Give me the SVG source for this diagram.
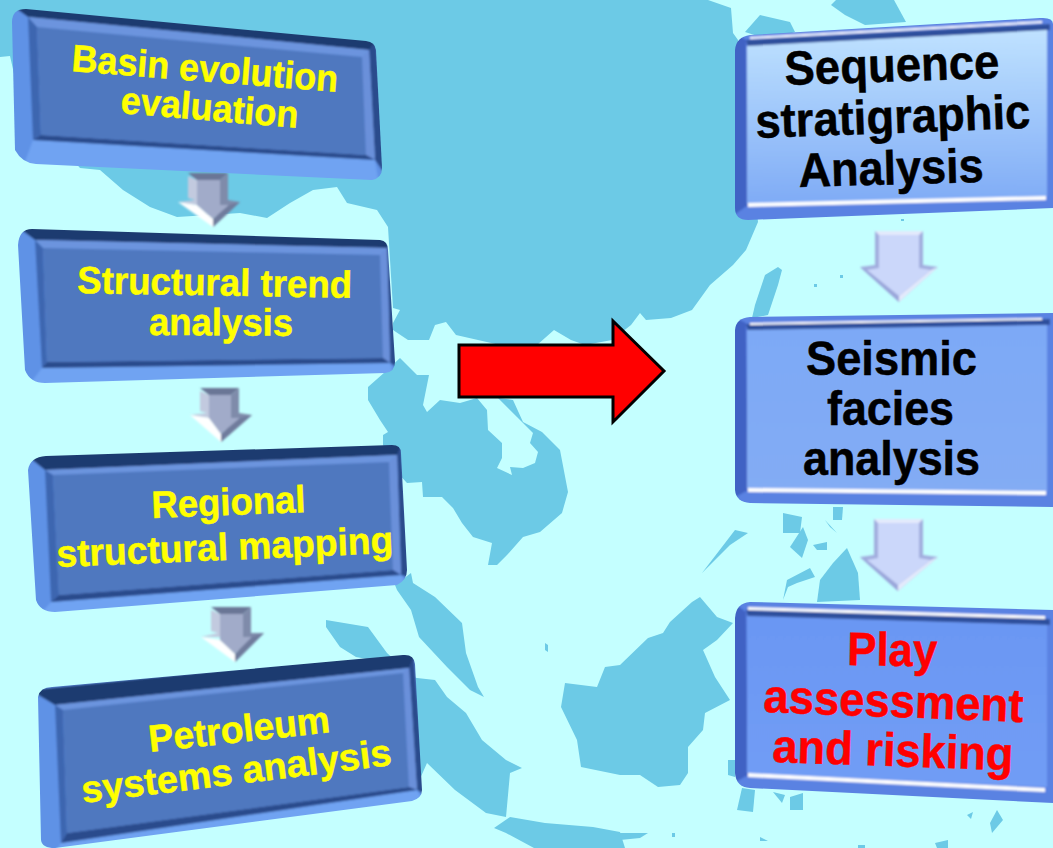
<svg xmlns="http://www.w3.org/2000/svg" width="1053" height="848" viewBox="0 0 1053 848">
<style>
.land{fill:#6CCAE6}
.base{fill:#5F92E6}
.bot{fill:#6FA3F2}
.top{fill:#1F3A70}
.rgt{fill:#2C4C8C}
.ltop{fill:#6C94DE}
.lleft{fill:#3C66B0}
.lrgt{fill:#6A90DA}
.lbot{fill:#2B4B8C}
.face{fill:#5078BF}
.rbase{fill:#5A82E2}
.rleft{fill:#3F62C4}
.rdark{fill:#2F4F9C}
.wht{fill:#FFFFFF}
.a1{fill:#C2CADF}.a2{fill:#6A7696}.a3{fill:#7F8BAA}.a4{fill:#FFFFFF}.a5{fill:#A1ABC9}.a6{fill:#6F7B9C}
.b1{fill:#B4C0EC}.b2{fill:#9AA6DA}.b3{fill:#A2AEDE}.b4{fill:#E4EAFC}.b5{fill:#CBD7FA}.b6{fill:#A6B2E2}
text{font-family:"Liberation Sans",Arial,sans-serif;font-weight:bold;stroke-width:0.5px}
.y{fill:#FFFF00;stroke:#FFFF00;font-size:38px}
.k{fill:#000000;stroke:#000000;font-size:48px}
.r{fill:#FF0000;stroke:#FF0000;font-size:47px}
</style>
<defs>
<filter id="soft" x="-5%" y="-5%" width="110%" height="110%"><feGaussianBlur stdDeviation="0.8"/></filter>
<linearGradient id="g1" x1="0" y1="0" x2="0" y2="1"><stop offset="0" stop-color="#BFE2FF"/><stop offset="1" stop-color="#7FABF6"/></linearGradient>
<linearGradient id="g2" x1="0" y1="0" x2="0" y2="1"><stop offset="0" stop-color="#7DA9F6"/><stop offset="1" stop-color="#83ACF4"/></linearGradient>
<linearGradient id="g3" x1="0" y1="0" x2="0" y2="1"><stop offset="0" stop-color="#6B97F3"/><stop offset="1" stop-color="#719DF5"/></linearGradient>
<clipPath id="c1"><path d="M12,22 Q12,9 26,9 L366,41 Q375,42 376,50 L382,168 Q382,178 372,180 L36,164 Q22,163 15,150 Z"/></clipPath>
<clipPath id="c2"><path d="M18,245 Q19,229 32,229 L380,240 Q388,241 388,250 L395,362 Q395,372 385,373 L45,383 Q30,383 25,370 Z"/></clipPath>
<clipPath id="c3"><path d="M28,470 Q30,457 46,456 L392,445 Q401,445 401,453 L407,570 Q407,580 397,585 L55,612 Q40,612 36,600 Z"/></clipPath>
<clipPath id="c4"><path d="M38,697 Q40,687 52,687 L403,655 Q414,654 415,664 L422,790 Q422,798 412,801 L55,848 Q42,848 41,840 Z"/></clipPath>
<clipPath id="c5"><path d="M735,50 Q736,37 750,35 L1040,18 Q1053,17 1053,24 L1053,208 L748,220 Q735,220 735,208 Z"/></clipPath>
<clipPath id="c6"><path d="M735,330 Q736,318 750,317 L1053,313 L1053,507 L750,503 Q736,502 735,490 Z"/></clipPath>
<clipPath id="c7"><path d="M735,618 Q736,603 750,602 L1053,610 L1053,803 L750,788 Q736,787 735,773 Z"/></clipPath>
</defs>
<rect width="1053" height="848" fill="#C4FFFF"/>
<g id="map">
<polygon class="land" points="0,0 708,0 731,8 733,33 738,40 758,222 746,250 733,265 710,285 692,310 671,318 646,320 640,313 631,325 612,340 585,345 571,340 554,330 537,345 500,345 456,335 446,322 435,325 429,340 408,340 393,330 393,323 400,310 393,308 388,227 377,210 347,203 337,187 313,190 290,203 267,218 240,213 177,217 150,207 123,190 100,170 80,168 20,100 10,56 0,57"/>
<polygon class="land" points="745,32 760,15 790,22 795,32 770,40"/>
<polygon class="land" points="831,5 836,0 894,0 906,22 865,25 845,15"/>
<polygon class="land" points="778,267 765,275 755,305 752,318 768,315 778,285 782,270"/>
<polygon class="land" points="368,387 385,372 400,358 417,375 429,375 428,380 423,405 427,412 440,400 460,403 477,398 487,410 488,430 502,443 502,458 497,468 512,475 510,467 523,468 535,463 538,452 530,443 533,433 517,417 498,398 513,400 523,422 542,432 560,450 568,492 562,513 540,532 523,537 507,555 497,565 488,565 492,543 473,537 462,523 453,508 442,497 423,497 422,482 407,483 395,470 383,445 383,435 388,432 380,420 368,400"/>
<polygon class="land" points="395,585 411,573 413,583 435,597 462,623 466,653 478,687 484,697 470,690 447,667 419,637 411,610 397,590"/>
<polygon class="land" points="326,620 368,627 387,653 400,665 356,657 340,647 326,627"/>
<polygon class="land" points="405,675 417,678 435,680 447,697 466,713 482,740 506,760 522,768 510,773 506,817 486,813 455,790 427,763 415,790"/>
<polygon class="land" points="494,828 510,817 545,823 593,827 620,832 625,848 534,848 506,833"/>
<polygon class="land" points="620,665 648,638 663,633 670,622 692,602 700,597 717,617 733,623 717,640 703,650 715,677 730,700 705,713 703,730 688,747 688,773 680,785 658,787 640,775 620,775 581,767 577,740 561,707 565,683 597,687 605,667"/>
<polygon class="land" points="702,573 735,530 748,533 730,545 705,570"/>
<polygon class="land" points="783,513 802,517 800,533 783,533"/>
<polygon class="land" points="803,527 808,540 802,558 790,547"/>
<polygon class="land" points="833,507 843,507 842,520 833,520"/>
<polygon class="land" points="825,520 837,533 830,527"/>
<polygon class="land" points="813,545 827,542 827,550 817,550"/>
<polygon class="land" points="847,548 858,573 860,600 817,602 820,580 833,563"/>
<polygon class="land" points="783,600 787,580 810,568 815,577 797,583 788,587"/>
<polygon class="land" points="742,788 755,790 753,812 737,810"/>
<polygon class="land" points="773,792 785,795 782,803"/>
<polygon class="land" points="790,797 803,793 803,810 790,810"/>
<polygon class="land" points="728,760 735,760 735,777 728,775"/>
<polygon class="land" points="990,823 997,810 1003,820 992,833"/>
<polygon class="land" points="967,815 973,812 971,819"/>
<polygon class="land" points="935,843 948,840 948,848 937,848"/>
<polygon class="land" points="620,833 648,833 640,838 620,840"/>
<polygon class="land" points="672,833 675,833 675,837 672,837"/>
<polygon class="land" points="760,837 768,841 760,841"/>
<polygon class="land" points="858,845 865,845 865,848 858,848"/>
<polygon class="land" points="545,643 548,645 548,652 545,650"/>
<rect class="land" x="814" y="284" width="3" height="3"/>
<rect class="land" x="840" y="275" width="3" height="3"/>
<rect class="land" x="901" y="219" width="3" height="2"/>
</g>
<g id="connectors">
<g id="arrow-l1" filter="url(#soft)">
<polygon class="a1" points="188,176 197,180 197,205 178,202 195,200 188,198"/>
<polygon class="a2" points="188,173 228,173 220,180 197,180"/>
<polygon class="a3" points="228,173 228,200 240,202 213,227 220,205 220,180"/>
<polygon class="a4" points="178,202 213,227 213,219 197,205"/>
<polygon class="a5" points="197,180 220,180 220,205 229,205 213,219 197,205"/>
<polygon class="a6" points="229,205 240,202 213,227 213,219"/>
</g>
<g id="arrow-l2" filter="url(#soft)">
<polygon class="a1" points="200,391 209,395 209,418 190,415 207,413 200,411"/>
<polygon class="a2" points="200,388 239,388 231,395 209,395"/>
<polygon class="a3" points="239,388 239,413 252,415 221,442 231,418 231,395"/>
<polygon class="a4" points="190,415 221,442 221,434 209,418"/>
<polygon class="a5" points="209,395 231,395 231,418 240,418 221,434 209,418"/>
<polygon class="a6" points="240,418 252,415 221,442 221,434"/>
</g>
<g id="arrow-l3" filter="url(#soft)">
<polygon class="a1" points="211,610 220,614 220,637 201,637 218,633 211,631"/>
<polygon class="a2" points="211,607 251,607 243,614 220,614"/>
<polygon class="a3" points="251,607 251,633 264,633 235,662 243,637 243,614"/>
<polygon class="a4" points="201,637 235,662 235,654 220,640"/>
<polygon class="a5" points="220,614 243,614 243,637 252,637 235,654 220,640"/>
<polygon class="a6" points="252,637 264,633 235,662 235,654"/>
</g>
<g id="arrow-r1" filter="url(#soft)">
<polygon class="b3" points="875,231 923,231 923,265 938,267 899,302 860,267 875,265"/>
<polygon class="b4" points="875,231 923,231 919,235 879,235"/>
<polygon class="b4" points="899,302 938,267 931,270 899,296"/>
<polygon class="b2" points="860,267 899,302 899,296 867,270"/>
<polygon class="b5" points="879,235 919,235 919,268 931,270 899,296 867,270 879,268"/>
</g>
<g id="arrow-r2" filter="url(#soft)">
<polygon class="b3" points="874,519 923,519 923,555 938,557 898,591 860,557 874,555"/>
<polygon class="b4" points="874,519 923,519 919,523 878,523"/>
<polygon class="b4" points="898,591 938,557 931,560 898,585"/>
<polygon class="b2" points="860,557 898,591 898,585 867,560"/>
<polygon class="b5" points="878,523 919,523 919,558 931,560 898,585 867,560 878,558"/>
</g>
<polygon id="arrow-main" points="459,345 613,345 613,321 664,371 613,422 613,397 459,397" fill="#FF0000" stroke="#000000" stroke-width="3"/>
</g>
<g id="node-basin">
<g clip-path="url(#c1)"><g filter="url(#soft)">
<rect class="base" x="0" y="0" width="400" height="190"/>
<polygon class="top" points="10,4 380,38 369,50 28,17"/>
<polygon class="rgt" points="376,40 386,176 375,160 369,50"/>
<polygon class="bot" points="33,140 375,160 380,190 20,175"/>
<polygon class="ltop" points="28,17 369,50 362,57 37,27"/>
<polygon class="lleft" points="28,17 37,27 41,135 33,140"/>
<polygon class="lrgt" points="369,50 375,160 366,155 362,57"/>
<polygon class="lbot" points="33,140 41,135 366,155 375,160"/>
<polygon class="face" points="37,27 362,57 366,155 41,135"/>
</g></g>
<text class="y" transform="translate(71,71) rotate(4.5)" textLength="267" lengthAdjust="spacingAndGlyphs">Basin evolution</text>
<text class="y" transform="translate(120,113) rotate(4.8)" textLength="178" lengthAdjust="spacingAndGlyphs">evaluation</text>
</g>
<g id="node-structural">
<g clip-path="url(#c2)"><g filter="url(#soft)">
<rect class="base" x="0" y="220" width="410" height="175"/>
<polygon class="top" points="15,225 392,236 387,248 35,240"/>
<polygon class="rgt" points="388,240 398,368 390,363 387,248"/>
<polygon class="bot" points="42,368 390,363 395,380 25,390"/>
<polygon class="ltop" points="35,240 387,248 380,255 43,248"/>
<polygon class="lleft" points="35,240 43,248 47,362 42,368"/>
<polygon class="lrgt" points="387,248 390,363 383,358 380,255"/>
<polygon class="lbot" points="42,368 47,362 383,358 390,363"/>
<polygon class="face" points="43,248 380,255 383,358 47,362"/>
</g></g>
<text class="y" transform="translate(77,293) rotate(1)" textLength="275" lengthAdjust="spacingAndGlyphs">Structural trend</text>
<text class="y" transform="translate(149,335) rotate(0.3)" textLength="144" lengthAdjust="spacingAndGlyphs">analysis</text>
</g>
<g id="node-regional">
<g clip-path="url(#c3)"><g filter="url(#soft)">
<rect class="base" x="15" y="435" width="405" height="190"/>
<polygon class="top" points="20,450 405,440 397,455 45,470"/>
<polygon class="rgt" points="401,445 410,578 401,575 397,455"/>
<polygon class="bot" points="51,602 401,575 410,590 35,620"/>
<polygon class="ltop" points="45,470 397,455 389,462 53,475"/>
<polygon class="lleft" points="45,470 53,475 59,595 51,602"/>
<polygon class="lrgt" points="397,455 401,575 393,570 389,462"/>
<polygon class="lbot" points="51,602 59,595 393,570 401,575"/>
<polygon class="face" points="53,475 389,462 393,570 59,595"/>
</g></g>
<text class="y" transform="translate(152,518) rotate(-2.2)" textLength="154" lengthAdjust="spacingAndGlyphs">Regional</text>
<text class="y" transform="translate(57,567) rotate(-2.4)" textLength="337" lengthAdjust="spacingAndGlyphs">structural mapping</text>
</g>
<g id="node-petroleum">
<g clip-path="url(#c4)"><g filter="url(#soft)">
<rect class="base" x="25" y="645" width="405" height="215"/>
<polygon class="top" points="30,690 420,650 409,668 55,705"/>
<polygon class="rgt" points="414,655 425,795 417,790 409,668"/>
<polygon class="bot" points="61,843 417,790 425,805 50,860"/>
<polygon class="ltop" points="55,705 409,668 403,673 63,710"/>
<polygon class="lleft" points="55,705 63,710 67,833 61,843"/>
<polygon class="lrgt" points="409,668 417,790 409,787 403,673"/>
<polygon class="lbot" points="61,843 67,833 409,787 417,790"/>
<polygon class="face" points="63,710 403,673 409,787 67,833"/>
</g></g>
<text class="y" transform="translate(150,752) rotate(-6.3)" textLength="182" lengthAdjust="spacingAndGlyphs">Petroleum</text>
<text class="y" transform="translate(83,803) rotate(-7)" textLength="312" lengthAdjust="spacingAndGlyphs">systems analysis</text>
</g>
<g id="node-sequence">
<g clip-path="url(#c5)"><g filter="url(#soft)">
<rect class="rbase" x="725" y="10" width="340" height="220"/>
<polygon class="rleft" points="730,30 746,40 748,205 730,218"/>
<polygon class="rdark" points="746,40 1050,24 1050,30 748,47"/>
<polygon class="wht" points="750,37 1042,21 1042,23 750,39"/>
<polygon points="747,46 1047,30 1047,196 747,204" fill="url(#g1)"/>
<polygon class="wht" points="748,203 1046,196 1046,200 748,207"/>
</g></g>
<text class="k" transform="translate(785,85) rotate(-1.9)" textLength="215" lengthAdjust="spacingAndGlyphs">Sequence</text>
<text class="k" transform="translate(756,138) rotate(-2.1)" textLength="275" lengthAdjust="spacingAndGlyphs">stratigraphic</text>
<text class="k" transform="translate(799,187) rotate(-1.6)" textLength="185" lengthAdjust="spacingAndGlyphs">Analysis</text>
</g>
<g id="node-seismic">
<g clip-path="url(#c6)"><g filter="url(#soft)">
<rect class="rbase" x="725" y="305" width="340" height="210"/>
<polygon class="rleft" points="730,315 746,323 748,490 730,500"/>
<polygon class="rdark" points="746,324 1050,319 1050,325 748,331"/>
<polygon class="wht" points="750,323 1042,318 1042,320 750,325"/>
<polygon points="747,330 1047,325 1047,491 747,489" fill="url(#g2)"/>
<polygon class="wht" points="748,488 1046,491 1046,495 748,492"/>
</g></g>
<text class="k" transform="translate(806,375)" textLength="171" lengthAdjust="spacingAndGlyphs">Seismic</text>
<text class="k" transform="translate(827,425)" textLength="127" lengthAdjust="spacingAndGlyphs">facies</text>
<text class="k" transform="translate(803,475)" textLength="177" lengthAdjust="spacingAndGlyphs">analysis</text>
</g>
<g id="node-play">
<g clip-path="url(#c7)"><g filter="url(#soft)">
<rect class="rbase" x="725" y="595" width="340" height="220"/>
<polygon class="rleft" points="730,600 746,612 748,775 730,785"/>
<polygon class="rdark" points="746,610 1050,619 1050,625 748,617"/>
<polygon class="wht" points="748,607 1045,616 1045,619 748,610"/>
<polygon points="747,616 1047,625 1047,787 747,773" fill="url(#g3)"/>
<polygon class="wht" points="748,773 1045,788 1045,792 748,777"/>
</g></g>
<text class="r" transform="translate(847,665) rotate(1)" textLength="90" lengthAdjust="spacingAndGlyphs">Play</text>
<text class="r" transform="translate(763,712) rotate(2.2)" textLength="260" lengthAdjust="spacingAndGlyphs">assessment</text>
<text class="r" transform="translate(772,762) rotate(2)" textLength="241" lengthAdjust="spacingAndGlyphs">and risking</text>
</g>
</svg>
